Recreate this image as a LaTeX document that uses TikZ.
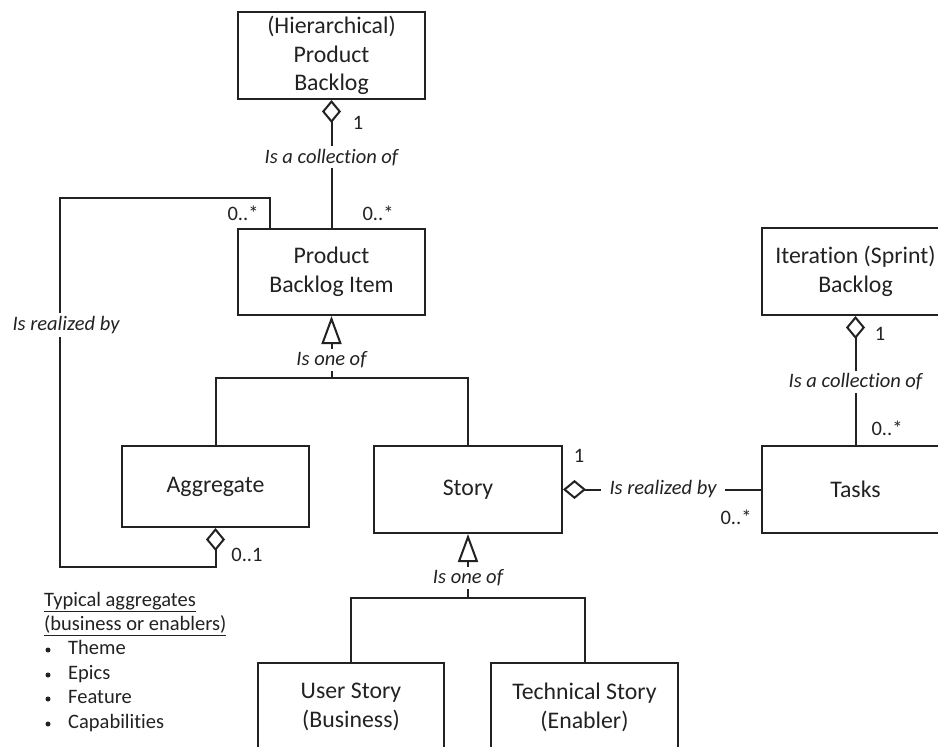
\documentclass[tikz,border=0pt]{standalone}
\usepackage{fontspec}
\setmainfont{Carlito}[Ligatures={NoCommon,NoContextual}]
\usetikzlibrary{arrows.meta}
\definecolor{ink}{HTML}{222222}
\tikzset{
  boxnode/.style={draw=ink, line width=2pt, inner sep=0pt, align=center, text=ink,
    font=\fontsize{23.8}{28.8}\selectfont},
  lbl/.style={fill=white, inner xsep=6pt, inner ysep=3pt, text=ink,
    font=\fontsize{20.5}{24}\selectfont\itshape},
  mult/.style={inner sep=0pt, text=ink, font=\fontsize{20.5}{24}\selectfont},
  listline/.style={inner sep=0pt, anchor=west, text=ink, text height=14pt, text depth=5pt,
    font=\fontsize{20.5}{24}\selectfont},
  bulletdot/.style={circle, fill=ink, inner sep=0pt, minimum size=5pt},
  conn/.style={draw=ink, line width=2pt},
  aggr/.style={conn, -{Diamond[open, length=23pt, width=19pt]}},
  gen/.style={conn, -{Triangle[open, length=28pt, width=20pt]}},
}
\begin{document}
\begin{tikzpicture}[x=1pt, y=-1pt]
\useasboundingbox (0,0) rectangle (938,747);
\fill[white] (0,0) rectangle (938,747);
\clip (0,0) rectangle (938,747);

% boxes
\node[boxnode, minimum width=187pt, minimum height=87pt] (hpb) at (331.5,55.5) {(Hierarchical)\\Product\\Backlog};
\node[boxnode, minimum width=187pt, minimum height=86pt] (pbi) at (331.5,272) {Product\\Backlog Item};
\node[boxnode, minimum width=187pt, minimum height=87pt] (iter) at (855.5,271.5) {Iteration (Sprint)\\Backlog};
\node[boxnode, minimum width=187pt, minimum height=81pt] (agg) at (215.5,486.5) {Aggregate};
\node[boxnode, minimum width=188pt, minimum height=87pt] (story) at (468,489.5) {Story};
\node[boxnode, minimum width=187pt, minimum height=87pt] (tasks) at (855.5,489.5) {Tasks};
\node[boxnode, minimum width=186pt, minimum height=88pt] (user) at (351,707) {User Story\\(Business)};
\node[boxnode, minimum width=187pt, minimum height=88pt] (tech) at (584.5,707) {Technical Story\\(Enabler)};

% product backlog aggregation
\draw[aggr] (pbi.north) -- node[lbl, pos=0.554] {Is a collection of} (hpb.south);
\node[mult] (m1) at (358,123) {1};
\node[mult] (m2) at (378,213) {0..*};

% self loop aggregate
\coordinate (lt) at (60,198);
\coordinate (lb) at (60,567);
\draw[aggr] ([xshift=-61.5pt]pbi.north) |- (lt) -- node[lbl, pos=0.344, inner xsep=2pt, xshift=6pt] {Is realized by} (lb) -| (agg.south);
\node[mult] (m3) at (243,213) {0..*};
\node[mult] (m4) at (247,555) {0..1};

% generalization PBI
\coordinate (j1) at (331.5,378);
\draw[gen] (j1) -- node[lbl, pos=0.29] {Is one of} (pbi.south);
\draw[conn] (agg.north) |- (j1) -| (story.north);

% generalization Story
\coordinate (j2) at (468,598);
\draw[gen] (j2) -- node[lbl, pos=0.31] {Is one of} (story.south);
\draw[conn] (user.north) |- (j2) -| (tech.north);

% iteration backlog aggregation
\draw[aggr] (tasks.north) -- node[lbl, pos=0.489] {Is a collection of} (iter.south);
\node[mult] (m5) at (880,334) {1};
\node[mult] (m6) at (887,428) {0..*};

% story realized by tasks
\draw[aggr] (tasks.west) -- node[lbl, pos=0.495, inner xsep=9pt] {Is realized by} (story.east);
\node[mult] (m7) at (579,456) {1};
\node[mult] (m8) at (736,517) {0..*};

% typical aggregates list
\node[listline] (t1) at (44,602) {\underline{Typical aggregates}};
\node[listline] (t2) at (44,626) {\underline{(business or enablers)}};
\node[bulletdot] (b1) at (48,650) {};
\node[listline] (i1) at (68,650) {Theme};
\node[bulletdot] (b2) at (48,675) {};
\node[listline] (i2) at (68,675) {Epics};
\node[bulletdot] (b3) at (48,699) {};
\node[listline] (i3) at (68,699) {Feature};
\node[bulletdot] (b4) at (48,724) {};
\node[listline] (i4) at (68,724) {Capabilities};
\end{tikzpicture}
\end{document}
